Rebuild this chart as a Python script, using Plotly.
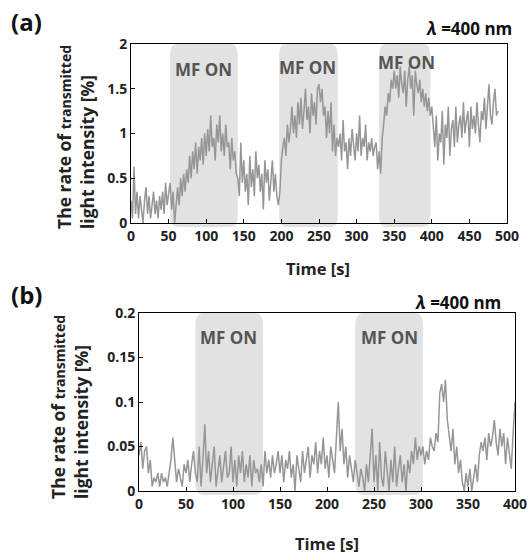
import plotly.graph_objects as go

# ---------------- data ----------------
time_a = [2 * i for i in range(245)]  # 0 .. 488 s
rate_a = [
    0.25, 0.05, 0.63, 0.1, 0.35, 0.05, 0.3, 0.15, 0.0, 0.25, 0.4, 0.1, 0.3, 0.05, 0.2, 0.35, 0.1, 0.25, 0.05, 0.3, 0.15, 0.35, 0.1, 0.45, 0.2,
    0.3, 0.45, 0.15, 0.35, 0.0, 0.25, 0.4, 0.2, 0.5, 0.3, 0.55, 0.35, 0.6, 0.45, 0.75, 0.5, 0.8, 0.6, 0.9, 0.55, 0.85, 0.7, 0.95, 0.65, 1.0,
    0.75, 1.05, 0.8, 1.2, 0.85, 0.95, 0.7, 1.1, 0.9, 1.2, 0.8, 1.0, 0.75, 1.1, 0.85, 0.9, 0.6, 0.95, 0.7, 0.8, 0.55, 0.5, 0.3, 0.9, 0.45,
    0.7, 0.35, 0.55, 0.2, 0.75, 0.4, 0.6, 0.3, 0.8, 0.5, 0.65, 0.35, 0.55, 0.15, 0.7, 0.45, 0.6, 0.25, 0.5, 0.7, 0.35, 0.55, 0.3, 0.2, 0.35,
    0.7, 0.85, 0.95, 0.75, 1.1, 0.9, 1.05, 1.3, 1.0, 1.2, 0.95, 1.35, 1.1, 1.4, 1.05, 1.25, 1.5, 1.15, 1.3, 1.0, 1.45, 1.2, 1.35, 1.1, 1.5,
    1.55, 1.35, 1.5, 1.2, 1.3, 0.95, 1.25, 1.0, 1.35, 0.8, 1.1, 0.75, 0.95, 0.85, 1.0, 0.7, 1.15, 0.8, 0.9, 0.6, 0.95, 0.75, 1.05, 0.85, 0.7,
    1.0, 0.8, 1.2, 0.75, 0.95, 0.85, 1.1, 0.7, 0.9, 0.8, 0.95, 0.75, 0.85, 0.9, 0.6, 0.8, 0.55, 0.95, 1.1, 1.3, 1.2, 1.45, 1.35, 1.6, 1.5,
    1.7, 1.5, 1.65, 1.4, 1.75, 1.55, 1.45, 1.7, 1.3, 1.6, 1.75, 1.5, 1.65, 1.2, 1.7, 1.55, 1.45, 1.6, 1.35, 1.5, 1.3, 1.45, 1.25, 1.4, 1.2,
    1.3, 1.05, 0.85, 1.2, 0.7, 1.0, 0.9, 1.25, 0.65, 1.1, 0.95, 1.3, 0.75, 1.05, 1.15, 0.85, 1.3, 0.9, 1.1, 1.2, 0.95, 1.35, 1.0, 1.15, 1.25,
    0.85, 1.3, 1.05, 1.2, 1.0, 1.35, 1.1, 0.9, 1.25, 1.15, 1.4, 1.05, 1.3, 1.55, 1.2, 1.1, 1.35, 1.5, 1.2, 1.25,
]

time_b = [2 * i for i in range(201)]  # 0 .. 400 s
rate_b = [
    0.04, 0.055, 0.025, 0.045, 0.05, 0.02, 0.035, 0.005, 0.015, 0.01, 0.02, 0.005, 0.02, 0.01, 0.015, 0.005, 0.02, 0.035, 0.06, 0.03, 0.01, 0.025, 0.015, 0.005, 0.03,
    0.02, 0.035, 0.01, 0.03, 0.045, 0.02, 0.01, 0.05, 0.005, 0.035, 0.075, 0.02, 0.045, 0.01, 0.03, 0.05, 0.005, 0.025, 0.04, 0.01, 0.03, 0.045, 0.015, 0.02, 0.05,
    0.01, 0.035, 0.005, 0.04, 0.02, 0.045, 0.01, 0.03, 0.015, 0.04, 0.005, 0.035, 0.02, 0.025, 0.01, 0.03, 0.005, 0.045, 0.02, 0.035, 0.015, 0.04, 0.02, 0.03, 0.045,
    0.02, 0.04, 0.01, 0.035, 0.025, 0.045, 0.015, 0.03, 0.0, 0.04, 0.025, 0.01, 0.045, 0.02, 0.035, 0.05, 0.015, 0.04, 0.03, 0.055, 0.02, 0.045, 0.03, 0.06, 0.025,
    0.04, 0.015, 0.05, 0.035, 0.02, 0.06, 0.1, 0.045, 0.07, 0.03, 0.05, 0.015, 0.04, 0.025, 0.01, 0.035, 0.02, 0.005, 0.025, 0.015, 0.0, 0.03, 0.01, 0.045, 0.07,
    0.01, 0.04, 0.0, 0.055, 0.015, 0.005, 0.045, 0.02, 0.0, 0.035, 0.01, 0.05, 0.005, 0.025, 0.04, 0.01, 0.03, 0.0, 0.035, 0.02, 0.045, 0.03, 0.06, 0.035, 0.05,
    0.04, 0.05, 0.03, 0.045, 0.035, 0.06, 0.05, 0.045, 0.065, 0.055, 0.11, 0.12, 0.1, 0.125, 0.08, 0.06, 0.045, 0.07, 0.03, 0.05, 0.02, 0.035, 0.01, 0.0, 0.02,
    0.005, 0.025, 0.0, 0.015, 0.03, 0.01, 0.04, 0.055, 0.045, 0.06, 0.035, 0.065, 0.05, 0.06, 0.08, 0.055, 0.04, 0.07, 0.05, 0.065, 0.03, 0.06, 0.045, 0.025, 0.065,
    0.1,
]

# MF ON periods (start, end) in seconds
mf_on_a = [(52, 142), (197, 275), (330, 398)]
mf_on_b = [(60, 132), (230, 302)]
mf_label_a = [(96, 1.71), (235, 1.74), (366, 1.79)]
mf_label_b = [(95, 0.173), (266, 0.173)]

x_ticks_a = [0, 50, 100, 150, 200, 250, 300, 350, 400, 450, 500]
y_ticks_a = [0, 0.5, 1, 1.5, 2]
y_ticklabels_a = ["0", "0.5", "1", "1.5", "2"]
x_ticks_b = [0, 50, 100, 150, 200, 250, 300, 350, 400]
y_ticks_b = [0, 0.05, 0.1, 0.15, 0.2]
y_ticklabels_b = ["0", "0.05", "0.1", "0.15", "0.2"]

# ---------------- figure ----------------
W, H = 530, 555
FONT = "Open Sans"
LINE = "#969696"
SHADE = "#e2e2e2"

fig = go.Figure()
fig.add_trace(go.Scatter(x=time_a, y=rate_a, mode="lines", line=dict(color=LINE, width=1.5),
                         xaxis="x", yaxis="y", showlegend=False, hoverinfo="skip"))
fig.add_trace(go.Scatter(x=time_b, y=rate_b, mode="lines", line=dict(color=LINE, width=1.5),
                         xaxis="x2", yaxis="y2", showlegend=False, hoverinfo="skip"))

dom_a_x = [131 / W, 507 / W]
dom_a_y = [1 - 223 / H, 1 - 44 / H]
dom_b_x = [139 / W, 515 / W]
dom_b_y = [1 - 491 / H, 1 - 313 / H]

def rounded_path(x0, x1, y0, y1, rx, ry):
    return (f"M {x0+rx},{y0} L {x1-rx},{y0} Q {x1},{y0} {x1},{y0+ry} "
            f"L {x1},{y1-ry} Q {x1},{y1} {x1-rx},{y1} L {x0+rx},{y1} "
            f"Q {x0},{y1} {x0},{y1-ry} L {x0},{y0+ry} Q {x0},{y0} {x0+rx},{y0} Z")

shapes = []
for s, e in mf_on_a:
    y0 = dom_a_y[0] - 4 / H
    y1 = dom_a_y[1]
    shapes.append(dict(type="path", xref="x", yref="paper",
                       path=rounded_path(s, e, y0, y1, 9, 12 / H),
                       fillcolor=SHADE, line=dict(width=0), layer="below"))
for s, e in mf_on_b:
    y0 = dom_b_y[0] - 4 / H
    y1 = dom_b_y[1]
    shapes.append(dict(type="path", xref="x2", yref="paper",
                       path=rounded_path(s, e, y0, y1, 9, 12 / H),
                       fillcolor=SHADE, line=dict(width=0), layer="below"))

tickfont = dict(family=FONT, size=14, color="#222", weight="bold")
axis_common = dict(showline=True, linecolor="black", linewidth=1, mirror=True,
                   ticks="inside", ticklen=4, tickcolor="black", showgrid=False,
                   zeroline=False, tickfont=tickfont, automargin=False)

fig.update_layout(
    template="none",
    width=W, height=H,
    margin=dict(l=0, r=0, t=0, b=0),
    paper_bgcolor="white", plot_bgcolor="rgba(0,0,0,0)",
    xaxis=dict(domain=dom_a_x, range=[0, 500], tickvals=x_ticks_a, anchor="y", **axis_common),
    yaxis=dict(domain=dom_a_y, range=[0, 2], tickvals=y_ticks_a, ticktext=y_ticklabels_a, anchor="x", **axis_common),
    xaxis2=dict(domain=dom_b_x, range=[0, 400], tickvals=x_ticks_b, anchor="y2", **axis_common),
    yaxis2=dict(domain=dom_b_y, range=[0, 0.2], tickvals=y_ticks_b, ticktext=y_ticklabels_b, anchor="x2", **axis_common),
    shapes=shapes,
)

ann = []
title_font = dict(family=FONT, size=17.5, color="#222", weight="bold")
ytitle = ("The rate of <span style='font-size:14px'>transmitted</span><br>"
          "light intensity [%]")
for xc, yc in [(75, 137), (70, 407)]:
    ann.append(dict(text=ytitle, xref="paper", yref="paper", x=xc / W, y=1 - yc / H,
                    xanchor="center", yanchor="middle", textangle=-90, showarrow=False,
                    font=title_font, align="left"))
# x titles
tfont = dict(family=FONT, size=16.5, color="#222", weight="bold")
ann.append(dict(text="Time [s]", xref="paper", yref="paper", x=318 / W, y=1 - 269 / H,
                xanchor="center", yanchor="middle", showarrow=False, font=tfont))
ann.append(dict(text="Time [s]", xref="paper", yref="paper", x=327 / W, y=1 - 543 / H,
                xanchor="center", yanchor="middle", showarrow=False, font=tfont))
# panel letters
pfont = dict(family=FONT, size=24, color="#111", weight="bold")
ann.append(dict(text="(a)", xref="paper", yref="paper", x=9 / W, y=1 - 21 / H,
                xanchor="left", yanchor="middle", showarrow=False, font=pfont))
ann.append(dict(text="(b)", xref="paper", yref="paper", x=9 / W, y=1 - 294 / H,
                xanchor="left", yanchor="middle", showarrow=False, font=pfont))
# wavelength labels
lam = "<i>λ</i> =400 nm"
lfont = dict(family=FONT, size=17, color="#111", weight="bold")
ann.append(dict(text=lam, xref="paper", yref="paper", x=514 / W, y=1 - 28 / H,
                xanchor="right", yanchor="middle", showarrow=False, font=lfont))
ann.append(dict(text=lam, xref="paper", yref="paper", x=503 / W, y=1 - 302 / H,
                xanchor="right", yanchor="middle", showarrow=False, font=lfont))
# MF ON labels
mf_font = dict(family=FONT, size=17, color="#555", weight="bold")
for x, y in mf_label_a:
    ann.append(dict(text="MF ON", xref="x", yref="y", x=x, y=y, showarrow=False,
                    xanchor="center", yanchor="middle", font=mf_font))
for x, y in mf_label_b:
    ann.append(dict(text="MF ON", xref="x2", yref="y2", x=x, y=y, showarrow=False,
                    xanchor="center", yanchor="middle", font=mf_font))
fig.update_layout(annotations=ann)

fig.write_html("out.html", config={"displayModeBar": False},
               post_script="document.body.style.margin='0';document.body.style.overflow='hidden';")
